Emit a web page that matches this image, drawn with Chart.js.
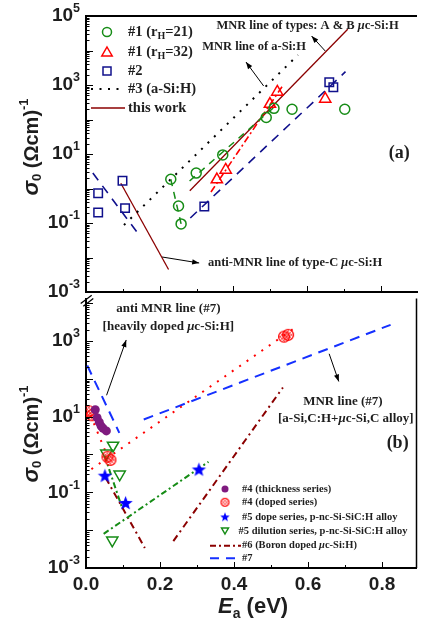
<!DOCTYPE html>
<html><head><meta charset="utf-8">
<script src="https://cdn.jsdelivr.net/npm/chart.js@4.4.1/dist/chart.umd.min.js"></script>
<style>html,body{margin:0;padding:0;background:#fff;overflow:hidden;width:425px;height:624px}
canvas{position:absolute;left:0}</style></head>
<body>
<canvas id="ca" width="425" height="300" style="top:0"></canvas>
<canvas id="cb" width="425" height="334" style="top:290px"></canvas>
<script>
// ================= DATA =================
// Panel (a)
const a_rH21_x = [0.230, 0.251, 0.258, 0.299, 0.371, 0.489, 0.510, 0.559, 0.702];
const a_rH21_y = [1.85, 0.31, 0.094, 2.8, 9.4, 114, 211, 198, 198];
const a_rH32_x = [0.355, 0.379, 0.499, 0.519, 0.649];
const a_rH32_y = [1.82, 3.44, 281, 627, 393];
const a_s2_x = [0.033, 0.033, 0.099, 0.106, 0.321, 0.660, 0.671];
const a_s2_y = [0.73, 0.20, 1.68, 0.27, 0.30, 1200, 860];
const a_fit21_anti_x = [0.230, 0.258], a_fit21_anti_y = [1.85, 0.094];
const a_fit21_mnr_x = [0.281, 0.514], a_fit21_mnr_y = [1.65, 246];
const a_fit32_x = [0.339, 0.535], a_fit32_y = [0.79, 1000];
const a_fit2_anti_x = [0.0185, 0.138], a_fit2_anti_y = [2.8, 0.055];
const a_fit2_mnr_x = [0.283, 0.704], a_fit2_mnr_y = [0.14, 2430];
const a_s3_x = [0.103, 0.575], a_s3_y = [0.0875, 7400];
const a_work_anti_x = [0.0945, 0.224], a_work_anti_y = [1.42, 0.0045];
const a_work_mnr_x = [0.2816, 0.710], a_work_mnr_y = [0.863, 41100];

// Panel (b)
const b_thick_x = [0.025, 0.030, 0.036, 0.041, 0.046, 0.055];
const b_thick_y = [15.2, 9.4, 7.1, 5.6, 4.9, 4.2];
const b_doped_x = [0.008, 0.016, 0.058, 0.066, 0.535, 0.546];
const b_doped_y = [13.8, 10.9, 0.87, 0.72, 1300, 1450];
const b_dope5_x = [0.051, 0.107, 0.305];
const b_dope5_y = [0.267, 0.051, 0.39];
const b_dil5_x = [0.073, 0.055, 0.091, 0.071];
const b_dil5_y = [1.73, 1.07, 0.30, 0.0054];
const b_fit4_mnr_x = [0.0146, 0.571], b_fit4_mnr_y = [0.41, 2470];
const b_fit4_anti_x = [0.012, 0.056], b_fit4_anti_y = [11, 1.0];
const b_fit5_anti_x = [0.0503, 0.098], b_fit5_anti_y = [0.92, 0.0377];
const b_fit5_mnr_x = [0.0477, 0.331], b_fit5_mnr_y = [0.008, 0.64];
const b_s6_anti_x = [0.053, 0.159], b_s6_anti_y = [0.244, 0.00338];
const b_s6_mnr_x = [0.236, 0.532], b_s6_mnr_y = [0.00515, 58.9];
const b_s7_anti_x = [0.0034, 0.090], b_s7_anti_y = [225, 3.74];
const b_s7_mnr_x = [0.156, 0.823], b_s7_mnr_y = [8.4, 2670];

// Ticks
const xTickValues = [0, 0.2, 0.4, 0.6, 0.8];
const xTickLabels = ['0.0', '0.2', '0.4', '0.6', '0.8'];
const a_yTickExp = [5, 3, 1, -1, -3];
const b_yTickExp = [3, 1, -1, -3];

// ================= STYLE =================
const GREEN = '#168c16', RED = '#ff0000', NAVY = '#10108c', MAROON = '#8b0000',
      PURPLE = '#7f1a7f', BLUE = '#0000ff', BLUE7 = '#1530ff';
const SERIF = '"Liberation Serif","Times New Roman",serif';
const SANS = '"Liberation Sans",Arial,sans-serif';
const TXT = '#1e1e1e';

function pts(xs, ys) { return xs.map((x, i) => ({ x: x, y: ys[i] })); }
function markers(label, xs, ys, st) {
  return Object.assign({ label: label, data: pts(xs, ys), showLine: false,
    pointBackgroundColor: 'rgba(0,0,0,0)', pointBorderWidth: 1.5, pointHoverRadius: 0 }, st);
}
function fitLine(label, xs, ys, color, dash, w) {
  return { label: label, data: pts(xs, ys), showLine: true, borderColor: color, borderWidth: w,
    borderDash: dash, pointRadius: 0, pointHoverRadius: 0, fill: false, tension: 0 };
}
function starImg(r, color) {
  const s = Math.ceil(2 * r + 2), c = document.createElement('canvas'); c.width = c.height = s;
  const g = c.getContext('2d'); g.translate(s / 2, s / 2); g.beginPath();
  for (let i = 0; i < 10; i++) { const rr = i % 2 ? r * 0.42 : r; const a = -Math.PI / 2 + i * Math.PI / 5; g.lineTo(rr * Math.cos(a), rr * Math.sin(a)); }
  g.closePath(); g.fillStyle = color; g.fill(); return c;
}
function hatchImg(r, color, step, lw) {
  const s = Math.ceil(2 * r + 3), c = document.createElement('canvas'); c.width = c.height = s;
  const g = c.getContext('2d'), m = s / 2; g.strokeStyle = color; g.lineWidth = 1.1;
  g.beginPath(); g.arc(m, m, r, 0, 2 * Math.PI); g.stroke();
  g.save(); g.beginPath(); g.arc(m, m, r, 0, 2 * Math.PI); g.clip(); g.lineWidth = lw;
  for (let k = -2 * r; k <= 2 * r; k += step) {
    g.beginPath(); g.moveTo(m + k - r, m - r); g.lineTo(m + k + r, m + r); g.stroke();
    g.beginPath(); g.moveTo(m + k + r, m - r); g.lineTo(m + k - r, m + r); g.stroke();
  }
  g.restore(); return c;
}
const STAR_BIG = starImg(7.5, BLUE), STAR_SM = starImg(5, BLUE);
const HATCH_BIG = hatchImg(5.5, RED, 3.6, 0.8), HATCH_SM = hatchImg(4, RED, 3.2, 0.7);

// ---- drawing helpers ----
function runsW(ctx, runs) { let w = 0; for (const r of runs) { ctx.font = r.f; w += ctx.measureText(r.t).width; } return w; }
function drawRuns(ctx, runs, x, y, align) {
  const w = runsW(ctx, runs); let cx = align === 'center' ? x - w / 2 : align === 'right' ? x - w : x;
  ctx.textBaseline = 'middle'; ctx.textAlign = 'left';
  for (const r of runs) { ctx.font = r.f; ctx.fillText(r.t, cx, y + (r.dy || 0)); cx += ctx.measureText(r.t).width; }
}
function logTicks(ctx, ca, Y) {
  ctx.strokeStyle = '#000'; ctx.lineWidth = 1;
  const lo = Math.floor(Math.log10(Y.min)), hi = Math.ceil(Math.log10(Y.max));
  for (let e = lo; e <= hi; e++) for (let m = 1; m <= 9; m++) {
    const v = m * Math.pow(10, e); if (v < Y.min * 0.999 || v > Y.max * 1.001) continue;
    const py = Math.round(Y.getPixelForValue(v)) + 0.5, len = m === 1 ? 7 : 3.5;
    ctx.beginPath(); ctx.moveTo(ca.left, py); ctx.lineTo(ca.left + len, py); ctx.stroke();
  }
}
function xTicks(ctx, ca, X) {
  ctx.strokeStyle = '#000'; ctx.lineWidth = 1;
  for (let k = 1; k * 0.1 <= X.max; k++) {
    const px = Math.round(X.getPixelForValue(k * 0.1)) + 0.5, len = k % 2 === 0 ? 6 : 3;
    ctx.beginPath(); ctx.moveTo(px, ca.bottom); ctx.lineTo(px, ca.bottom - len); ctx.stroke();
  }
}
function yLabels(ctx, Y, exps, xr) {
  ctx.fillStyle = TXT;
  for (const e of exps) {
    const py = Y.getPixelForValue(Math.pow(10, e));
    drawRuns(ctx, [{ t: '10', f: 'bold 19px ' + SANS }, { t: String(e), f: 'bold 12.5px ' + SANS, dy: -7 }], xr, py, 'right');
  }
}
function yTitle(ctx, cx, cy) {
  ctx.save(); ctx.translate(cx, cy); ctx.rotate(-Math.PI / 2); ctx.fillStyle = TXT;
  drawRuns(ctx, [{ t: 'σ', f: 'italic bold 22px ' + SANS }, { t: '0', f: 'bold 13px ' + SANS, dy: 5 },
    { t: ' (Ωcm)', f: 'bold 20px ' + SANS }, { t: '-1', f: 'bold 13px ' + SANS, dy: -8 }], 0, 0, 'center');
  ctx.restore();
}
function arrow(ctx, x1, y1, x2, y2) {
  ctx.strokeStyle = '#000'; ctx.fillStyle = '#000'; ctx.lineWidth = 1;
  ctx.beginPath(); ctx.moveTo(x1, y1); ctx.lineTo(x2, y2); ctx.stroke();
  const a = Math.atan2(y2 - y1, x2 - x1), L = 7, W = 2.6;
  ctx.beginPath(); ctx.moveTo(x2, y2);
  ctx.lineTo(x2 - L * Math.cos(a) + W * Math.sin(a), y2 - L * Math.sin(a) - W * Math.cos(a));
  ctx.lineTo(x2 - L * Math.cos(a) - W * Math.sin(a), y2 - L * Math.sin(a) + W * Math.cos(a));
  ctx.closePath(); ctx.fill();
}
function P(ch, xv, yv) { return [ch.scales.x.getPixelForValue(xv), ch.scales.y.getPixelForValue(yv)]; }
function muRuns(a, b, size) {
  return [{ t: a, f: 'bold ' + size + 'px ' + SERIF }, { t: 'μ', f: 'italic bold ' + size + 'px ' + SERIF }, { t: b, f: 'bold ' + size + 'px ' + SERIF }];
}
function dashLine(ctx, x1, x2, y, color, dash, w) {
  ctx.save(); ctx.strokeStyle = color; ctx.lineWidth = w; ctx.setLineDash(dash);
  ctx.beginPath(); ctx.moveTo(x1, y); ctx.lineTo(x2, y); ctx.stroke(); ctx.restore();
}
function tri(ctx, x, y, r, down, color) {
  ctx.strokeStyle = color; ctx.lineWidth = 1.5; ctx.beginPath();
  const s = down ? -1 : 1;
  ctx.moveTo(x, y - s * r); ctx.lineTo(x + r * 0.866, y + s * r * 0.5); ctx.lineTo(x - r * 0.866, y + s * r * 0.5); ctx.closePath(); ctx.stroke();
}

// ================= CHART A =================
const decorA = { id: 'decorA', afterDraw(ch) {
  const ctx = ch.ctx, ca = ch.chartArea, X = ch.scales.x, Y = ch.scales.y;
  ctx.save();
  ctx.strokeStyle = '#000'; ctx.lineWidth = 2;
  ctx.beginPath(); ctx.moveTo(ca.left, ca.top); ctx.lineTo(ca.right, ca.top); ctx.stroke();
  logTicks(ctx, ca, Y); xTicks(ctx, ca, X);
  yLabels(ctx, Y, a_yTickExp, ca.left - 6);
  yTitle(ctx, 32, 147);
  ctx.fillStyle = TXT;
  let p = P(ch, 0.601, 5.13e4); drawRuns(ctx, muRuns('MNR line of types: A & B ', 'c-Si:H', 12.5), p[0], p[1], 'center');
  p = P(ch, 0.456, 1.26e4); drawRuns(ctx, [{ t: 'MNR line of a-Si:H', f: 'bold 12.5px ' + SERIF }], p[0], p[1], 'center');
  p = P(ch, 0.331, 6.93e-3); drawRuns(ctx, muRuns('anti-MNR line of type-C ', 'c-Si:H', 12.5), p[0], p[1], 'left');
  p = P(ch, 0.850, 10.7); drawRuns(ctx, [{ t: '(a)', f: 'bold 18px ' + SERIF }], p[0], p[1], 'center');
  let q1 = P(ch, 0.649, 9680), q2 = P(ch, 0.612, 2.63e4); arrow(ctx, q1[0], q1[1], q2[0], q2[1]);
  q1 = P(ch, 0.482, 935); q2 = P(ch, 0.434, 4640); arrow(ctx, q1[0], q1[1], q2[0], q2[1]);
  q1 = P(ch, 0.2066, 0.01033); q2 = P(ch, 0.307, 0.00693); arrow(ctx, q1[0], q1[1], q2[0], q2[1]);
  const mx = ca.left + 21, tx = ca.left + 42, F = 'bold 14.5px ' + SERIF, FS = 'bold 10px ' + SERIF;
  const rows = [16, 36, 55, 73, 92].map(v => ca.top + v);
  ctx.strokeStyle = GREEN; ctx.lineWidth = 1.5; ctx.beginPath(); ctx.arc(mx, rows[0], 4.5, 0, 2 * Math.PI); ctx.stroke();
  tri(ctx, mx, rows[1] + 1, 6, false, RED);
  ctx.strokeStyle = NAVY; ctx.strokeRect(mx - 4, rows[2] - 4, 8, 8);
  dashLine(ctx, ca.left + 5, ca.left + 39, rows[3], '#000', [2, 6.5], 2);
  dashLine(ctx, ca.left + 5, ca.left + 39, rows[4], MAROON, [], 1.3);
  ctx.fillStyle = TXT;
  drawRuns(ctx, [{ t: '#1 (r', f: F }, { t: 'H', f: FS, dy: 4 }, { t: '=21)', f: F }], tx, rows[0], 'left');
  drawRuns(ctx, [{ t: '#1 (r', f: F }, { t: 'H', f: FS, dy: 4 }, { t: '=32)', f: F }], tx, rows[1], 'left');
  drawRuns(ctx, [{ t: '#2', f: F }], tx, rows[2], 'left');
  drawRuns(ctx, [{ t: '#3 (a-Si:H)', f: F }], tx, rows[3], 'left');
  drawRuns(ctx, [{ t: 'this work', f: F }], tx, rows[4], 'left');
  ctx.restore();
} };

new Chart(document.getElementById('ca'), {
  type: 'scatter',
  data: { datasets: [
    markers('#1 (rH=21)', a_rH21_x, a_rH21_y, { pointStyle: 'circle', pointRadius: 5, pointBorderColor: GREEN }),
    markers('#1 (rH=32)', a_rH32_x, a_rH32_y, { pointStyle: 'triangle', pointRadius: 6.5, pointBorderColor: RED }),
    markers('#2', a_s2_x, a_s2_y, { pointStyle: 'rect', pointRadius: 6, pointBorderColor: NAVY }),
    fitLine('fit #1 rH=21 anti', a_fit21_anti_x, a_fit21_anti_y, GREEN, [7, 6], 1.5),
    fitLine('fit #1 rH=21 MNR', a_fit21_mnr_x, a_fit21_mnr_y, GREEN, [7, 6], 1.5),
    fitLine('fit #1 rH=32', a_fit32_x, a_fit32_y, RED, [7, 3, 2, 3], 1.6),
    fitLine('fit #2 anti', a_fit2_anti_x, a_fit2_anti_y, NAVY, [9, 7], 1.6),
    fitLine('fit #2 MNR', a_fit2_mnr_x, a_fit2_mnr_y, NAVY, [9, 7], 1.6),
    fitLine('#3 (a-Si:H)', a_s3_x, a_s3_y, '#000', [2, 7], 2),
    fitLine('this work anti', a_work_anti_x, a_work_anti_y, MAROON, [], 1.3),
    fitLine('this work MNR', a_work_mnr_x, a_work_mnr_y, MAROON, [], 1.3)
  ] },
  options: {
    responsive: false, animation: false, devicePixelRatio: 1, events: [],
    layout: { padding: { top: 16, left: 0, right: 0, bottom: 0 } },
    plugins: { legend: { display: false }, tooltip: { enabled: false } },
    scales: {
      x: { type: 'linear', min: 0, max: 0.898, ticks: { display: false }, grid: { display: false, drawTicks: false },
           border: { display: true, color: '#000', width: 2 }, afterFit(s) { s.height = 8; } },
      y: { type: 'logarithmic', min: 1e-3, max: 1e5, ticks: { display: false }, grid: { display: false, drawTicks: false },
           border: { display: true, color: '#000', width: 2 }, afterFit(s) { s.width = 86; } }
    }
  },
  plugins: [decorA]
});

// ================= CHART B =================
const decorB = { id: 'decorB', afterDraw(ch) {
  const ctx = ch.ctx, ca = ch.chartArea, X = ch.scales.x, Y = ch.scales.y;
  ctx.save();
  ctx.strokeStyle = '#000'; ctx.lineWidth = 1.5;
  ctx.beginPath(); ctx.moveTo(ca.right, ca.top); ctx.lineTo(ca.right, ca.bottom); ctx.stroke();
  logTicks(ctx, ca, Y); xTicks(ctx, ca, X);
  yLabels(ctx, Y, b_yTickExp, ca.left - 6);
  yTitle(ctx, 32, 144);
  ctx.fillStyle = TXT; ctx.font = 'bold 19px ' + SANS; ctx.textAlign = 'center'; ctx.textBaseline = 'middle';
  xTickValues.forEach((v, i) => ctx.fillText(xTickLabels[i], X.getPixelForValue(v), ca.bottom + 17));
  drawRuns(ctx, [{ t: 'E', f: 'italic bold 22px ' + SANS }, { t: 'a', f: 'bold 14px ' + SANS, dy: 7 }, { t: ' (eV)', f: 'bold 22px ' + SANS }], ca.left + 132, ca.bottom + 39, 'left');
  ctx.strokeStyle = '#000'; ctx.lineWidth = 1.3;
  ctx.beginPath(); ctx.moveTo(ca.left - 5.3, ca.top + 5); ctx.lineTo(ca.left + 5.7, ca.top - 3.3); ctx.stroke();
  ctx.beginPath(); ctx.moveTo(ca.left - 2.7, ca.top + 7.7); ctx.lineTo(ca.left + 7.3, ca.top); ctx.stroke();
  ctx.fillStyle = TXT;
  let p = P(ch, 0.2225, 7260); drawRuns(ctx, [{ t: 'anti MNR line (#7)', f: 'bold 13px ' + SERIF }], p[0], p[1], 'center');
  p = P(ch, 0.2225, 2460); drawRuns(ctx, muRuns('[heavily doped ', 'c-Si:H]', 13), p[0], p[1], 'center');
  p = P(ch, 0.694, 25.6); drawRuns(ctx, [{ t: 'MNR line (#7)', f: 'bold 13px ' + SERIF }], p[0], p[1], 'center');
  p = P(ch, 0.702, 8.69); drawRuns(ctx, muRuns('[a-Si,C:H+', 'c-Si,C alloy]', 13), p[0], p[1], 'center');
  p = P(ch, 0.842, 1.94); drawRuns(ctx, [{ t: '(b)', f: 'bold 18px ' + SERIF }], p[0], p[1], 'center');
  let q1 = P(ch, 0.0556, 36.7), q2 = P(ch, 0.1086, 1062); arrow(ctx, q1[0], q1[1], q2[0], q2[1]);
  q1 = P(ch, 0.657, 458); q2 = P(ch, 0.683, 85.1); arrow(ctx, q1[0], q1[1], q2[0], q2[1]);
  const mx = ca.left + 139, tx = ca.left + 156, F = 'bold 10.5px ' + SERIF;
  const rows = [-79, -65.7, -50.7, -37, -22.3, -9.7].map(v => ca.bottom + v);
  ctx.fillStyle = PURPLE; ctx.beginPath(); ctx.arc(mx, rows[0], 3.5, 0, 2 * Math.PI); ctx.fill();
  ctx.drawImage(HATCH_SM, mx - HATCH_SM.width / 2, rows[1] - HATCH_SM.height / 2);
  ctx.drawImage(STAR_SM, mx - STAR_SM.width / 2, rows[2] - STAR_SM.height / 2);
  tri(ctx, mx, rows[3] - 1, 4, true, GREEN);
  dashLine(ctx, ca.left + 124, ca.left + 155, rows[4], MAROON, [6, 3, 2, 3], 2);
  dashLine(ctx, ca.left + 124, ca.left + 155, rows[5], BLUE7, [9, 7], 2);
  ctx.fillStyle = TXT;
  drawRuns(ctx, [{ t: '#4 (thickness series)', f: F }], tx, rows[0], 'left');
  drawRuns(ctx, [{ t: '#4 (doped series)', f: F }], tx, rows[1], 'left');
  drawRuns(ctx, [{ t: '#5 dope series, p-nc-Si-SiC:H alloy', f: F }], tx, rows[2], 'left');
  drawRuns(ctx, [{ t: '#5 dilution series, p-nc-Si-SiC:H alloy', f: F }], tx - 3.5, rows[3], 'left');
  drawRuns(ctx, muRuns('#6 (Boron doped ', 'c-Si:H)', 10.5), tx, rows[4], 'left');
  drawRuns(ctx, [{ t: '#7', f: F }], tx, rows[5], 'left');
  ctx.restore();
} };

new Chart(document.getElementById('cb'), {
  type: 'scatter',
  data: { datasets: [
    markers('#4 (thickness series)', b_thick_x, b_thick_y, { pointStyle: 'circle', pointRadius: 4.5, pointBackgroundColor: PURPLE, pointBorderColor: PURPLE, pointBorderWidth: 0 }),
    markers('#4 (doped series)', b_doped_x, b_doped_y, { pointStyle: HATCH_BIG, pointRadius: 6 }),
    markers('#5 dope series', b_dope5_x, b_dope5_y, { pointStyle: STAR_BIG, pointRadius: 7 }),
    markers('#5 dilution series', b_dil5_x, b_dil5_y, { pointStyle: 'triangle', pointRotation: 180, pointRadius: 6.5, pointBorderColor: GREEN }),
    fitLine('#4 doped MNR', b_fit4_mnr_x, b_fit4_mnr_y, RED, [2, 7], 2),
    fitLine('#4 doped anti', b_fit4_anti_x, b_fit4_anti_y, RED, [2, 7], 2),
    fitLine('#5 anti', b_fit5_anti_x, b_fit5_anti_y, GREEN, [6, 3, 2, 3], 2),
    fitLine('#5 MNR', b_fit5_mnr_x, b_fit5_mnr_y, GREEN, [6, 3, 2, 3], 2),
    fitLine('#6 anti', b_s6_anti_x, b_s6_anti_y, MAROON, [7, 4, 2, 4], 2),
    fitLine('#6 MNR', b_s6_mnr_x, b_s6_mnr_y, MAROON, [7, 4, 2, 4], 2),
    fitLine('#7 anti', b_s7_anti_x, b_s7_anti_y, BLUE7, [10, 7], 2),
    fitLine('#7 MNR', b_s7_mnr_x, b_s7_mnr_y, BLUE7, [10, 7], 2)
  ] },
  options: {
    responsive: false, animation: false, devicePixelRatio: 1, events: [],
    layout: { padding: { top: 5, left: 0, right: 2, bottom: 0 } },
    plugins: { legend: { display: false }, tooltip: { enabled: false } },
    scales: {
      x: { type: 'linear', min: 0, max: 0.893, ticks: { display: false }, grid: { display: false, drawTicks: false },
           border: { display: true, color: '#000', width: 2 }, afterFit(s) { s.height = 56; } },
      y: { type: 'logarithmic', min: 1e-3, max: 13250, ticks: { display: false }, grid: { display: false, drawTicks: false },
           border: { display: true, color: '#000', width: 2 }, afterFit(s) { s.width = 86; } }
    }
  },
  plugins: [decorB]
});
</script>
</body></html>
